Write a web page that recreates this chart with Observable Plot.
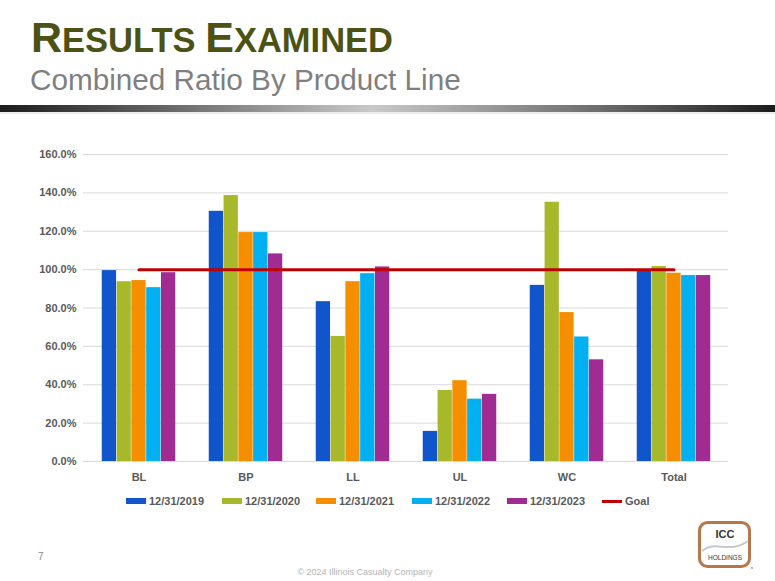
<!DOCTYPE html>
<html>
<head>
<meta charset="utf-8">
<script src="https://cdn.jsdelivr.net/npm/d3@7"></script>
<script src="https://cdn.jsdelivr.net/npm/@observablehq/plot@0.6"></script>
<style>
  html, body { margin: 0; padding: 0; background: #fff; }
  body { width: 775px; height: 581px; position: relative; overflow: hidden; font-family: "Liberation Sans", Arial, sans-serif; }
  #title { position: absolute; left: 31px; top: 16px; line-height: 1; font-weight: bold; color: #4b5214; white-space: nowrap; font-size: 34.5px; }
  #title .big { font-size: 43px; }
  #subtitle { position: absolute; left: 30px; top: 65px; line-height: 1; font-size: 29.7px; color: #7f7f7f; white-space: nowrap; }
  #bar { position: absolute; left: 0; top: 105px; width: 775px; height: 7px; background: linear-gradient(to right, #1c1c1c 0%, #5a5a5a 18%, #c9c9c9 48%, #6a6a6a 78%, #1c1c1c 100%); }
  #bar2 { position: absolute; left: 0; top: 112px; width: 775px; height: 2px; background: #ececec; }
  #chart { position: absolute; left: 0; top: 130px; }
  #legend { position: absolute; left: 0; top: 494px; width: 775px; height: 14px; font-size: 11px; font-weight: bold; color: #595959; }
  .item { position: absolute; top: 0; display: flex; align-items: center; height: 14px; white-space: nowrap; }
  .sw { display: inline-block; width: 20px; height: 6px; margin-right: 3px; }
  .ln { display: inline-block; width: 20px; height: 3px; margin-right: 3px; }
  #page { position: absolute; left: 38px; top: 551px; font-size: 10px; color: #8c8c8c; }
  #copy { position: absolute; left: 0; width: 730px; text-align: center; top: 567px; font-size: 9px; color: #b4b4b4; }
  #logo { position: absolute; left: 698px; top: 521px; }
</style>
</head>
<body>
<div id="title"><span class="big">R</span>ESULTS <span class="big">E</span>XAMINED</div>
<div id="subtitle">Combined Ratio By Product Line</div>
<div id="bar"></div>
<div id="bar2"></div>
<div id="chart"></div>
<div id="legend"></div>
<div id="page">7</div>
<div id="copy">© 2024 Illinois Casualty Company</div>
<div id="logo">
  <svg width="56" height="50" viewBox="0 0 56 50">
    <rect x="1.5" y="1.5" width="50" height="44" rx="8" ry="8" fill="#fff" stroke="#b8764a" stroke-width="3"/>
    <path d="M4 30 C 18 18, 30 34, 50 20" fill="none" stroke="#c8c8c8" stroke-width="2"/>
    <text x="27" y="17" text-anchor="middle" font-family="Liberation Sans, Arial" font-weight="bold" font-size="11" fill="#333">ICC</text>
    <text x="27" y="39" text-anchor="middle" font-family="Liberation Sans, Arial" font-size="6.5" fill="#333">HOLDINGS</text>
    <circle cx="54" cy="47" r="0.8" fill="#555"/>
  </svg>
</div>
<script>
const categories = ["BL", "BP", "LL", "UL", "WC", "Total"];
const seriesNames = ["12/31/2019", "12/31/2020", "12/31/2021", "12/31/2022", "12/31/2023"];
const seriesColors = ["#1155cc", "#a8b82b", "#f58f00", "#00b0f0", "#a02b93"];
const v2019 = [99.5, 130.4, 83.3, 15.7, 91.8, 99.8];
const v2020 = [93.7, 138.6, 65.2, 37.0, 135.1, 101.6];
const v2021 = [94.3, 119.3, 93.7, 42.1, 77.6, 98.1];
const v2022 = [90.6, 119.3, 97.9, 32.5, 64.9, 96.9];
const v2023 = [98.4, 108.2, 101.4, 35.0, 53.0, 96.9];
const goalValues = [100, 100, 100, 100, 100, 100];
const goalName = "Goal";
const goalColor = "#c00000";
const yTicks = [0, 20, 40, 60, 80, 100, 120, 140, 160];

const seriesValues = [v2019, v2020, v2021, v2022, v2023];

const W = 775, H = 360, mL = 83, mR = 47, mT = 24, mB = 29;
const bandW = (W - mL - mR) / categories.length;
const barW = 14.8;
const inset = (bandW - barW) / 2;

const barMarks = seriesValues.map((vals, i) =>
  Plot.barY(categories.map((c, j) => ({cat: c, value: vals[j]})), {
    x: "cat", y: "value", fill: seriesColors[i],
    dx: (i - (seriesValues.length - 1) / 2) * barW,
    insetLeft: inset, insetRight: inset
  })
);

const goalRows = categories.map((c, j) => ({cat: c, value: goalValues[j]}));

const chart = Plot.plot({
  width: W, height: H,
  marginLeft: mL, marginRight: mR, marginTop: mT, marginBottom: mB,
  style: {fontFamily: "Liberation Sans, Arial, sans-serif", fontSize: "11px", fontWeight: "bold", color: "#595959", background: "transparent"},
  x: {domain: categories, padding: 0, label: null, tickSize: 0, tickPadding: 12},
  y: {domain: [0, 160], ticks: yTicks, tickFormat: d => d.toFixed(1) + "%", label: null, tickSize: 0, tickPadding: 7},
  marks: [
    Plot.ruleY(yTicks, {stroke: "#d9d9d9", strokeWidth: 1}),
    ...barMarks,
    Plot.lineY(goalRows, {x: "cat", y: "value", stroke: goalColor, strokeWidth: 3})
  ]
});
document.getElementById("chart").appendChild(chart);

const legend = document.getElementById("legend");
const lefts = [126, 222, 316, 412, 507, 602];
seriesNames.forEach((n, i) => {
  const d = document.createElement("div");
  d.className = "item";
  d.style.left = lefts[i] + "px";
  d.innerHTML = `<span class="sw" style="background:${seriesColors[i]}"></span>${n}`;
  legend.appendChild(d);
});
const g = document.createElement("div");
g.className = "item";
g.style.left = lefts[5] + "px";
g.innerHTML = `<span class="ln" style="background:${goalColor}"></span>${goalName}`;
legend.appendChild(g);
</script>
</body>
</html>
